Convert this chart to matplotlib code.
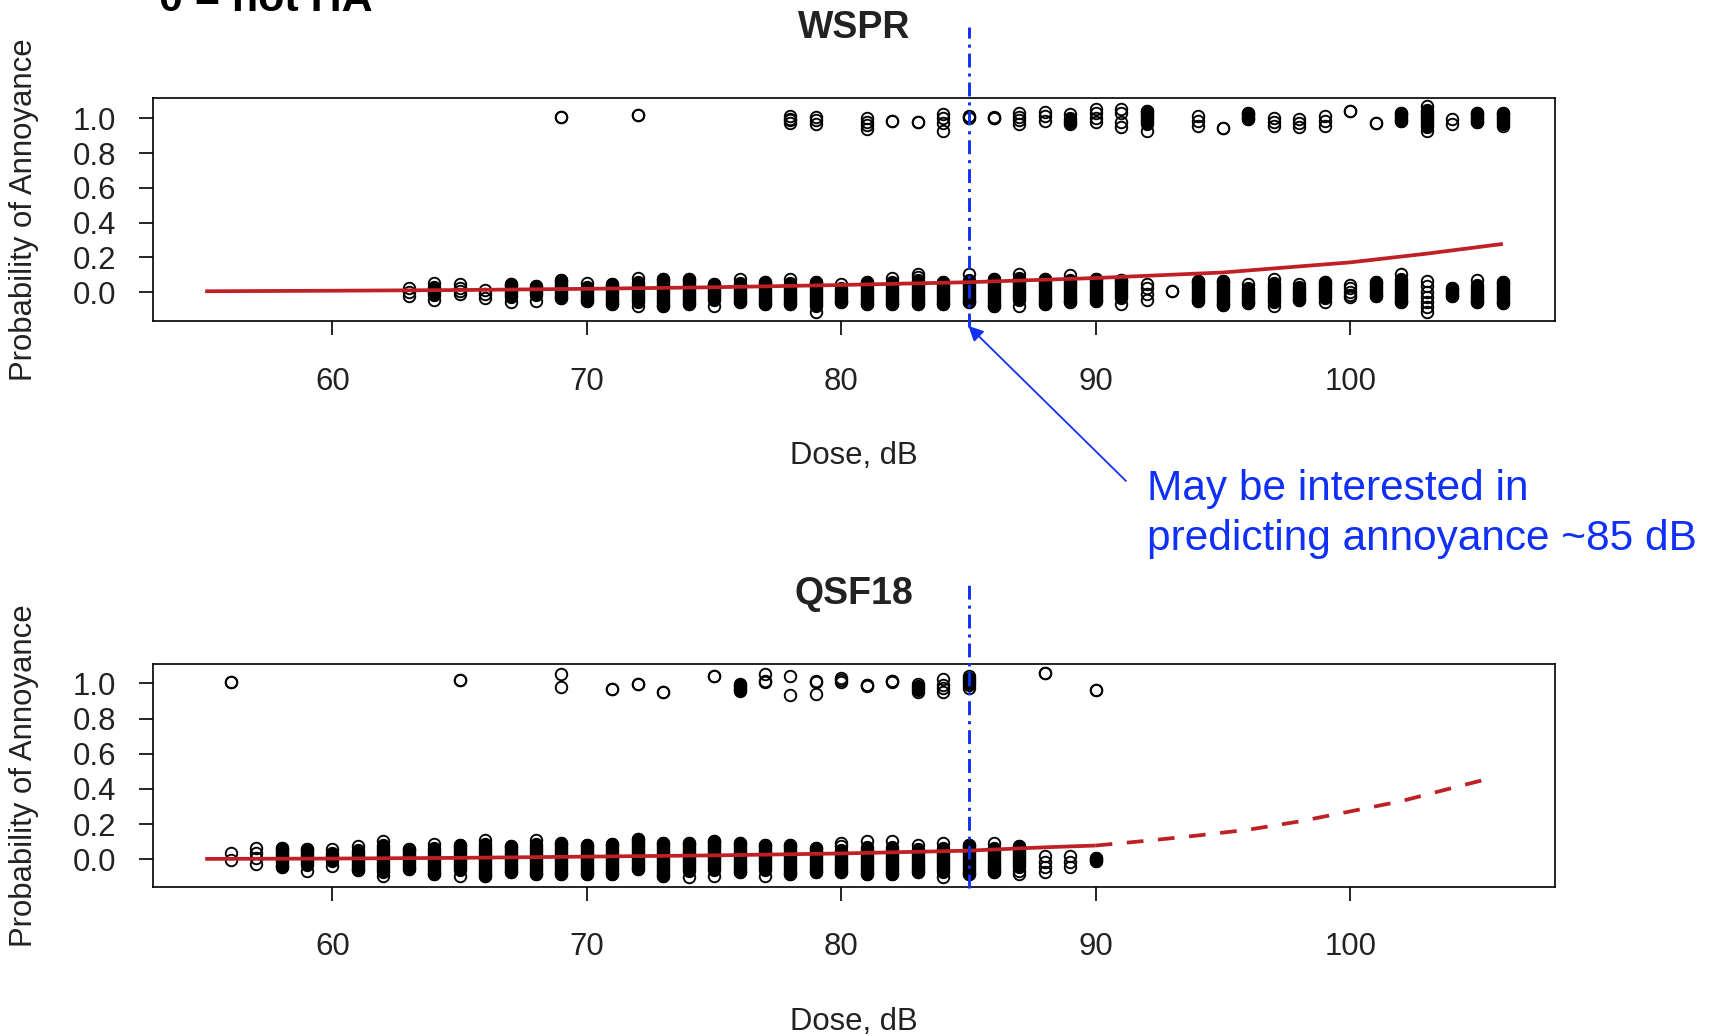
import numpy as np
import matplotlib
matplotlib.use("Agg")
import matplotlib.pyplot as plt

nan = np.nan

# ---------------- data ----------------
# WSPR: jittered responses at 0 (not highly annoyed)
wspr0_dose = [63, 64, 65, 66, 67, 68, 69, 70, 71, 72, 73, 74, 75, 76, 77, 78, 79, 80, 81, 82, 83, 84,
              85, 86, 87, 88, 89, 90, 91, 92, 93, 94, 95, 96, 97, 98, 99, 100, 101, 102, 103, 104, 105, 106]
wspr0_lo = [-0.019, -0.042, -0.010, -0.035, -0.054, -0.048, -0.035, -0.048, -0.067, -0.077, -0.077, -0.067,
            -0.077, -0.058, -0.067, -0.067, -0.111, -0.058, -0.067, -0.067, -0.067, -0.067, -0.058, -0.077,
            -0.077, -0.067, -0.058, -0.048, -0.067, -0.042, 0.007, -0.048, -0.073, -0.061, -0.081, -0.042,
            -0.058, -0.029, -0.019, -0.058, -0.115, -0.023, -0.058, -0.061]
wspr0_hi = [0.023, 0.055, 0.046, 0.013, 0.050, 0.036, 0.071, 0.055, 0.050, 0.084, 0.075, 0.075, 0.050,
            0.075, 0.061, 0.075, 0.061, 0.050, 0.061, 0.084, 0.107, 0.061, 0.103, 0.075, 0.107, 0.075,
            0.099, 0.075, 0.069, 0.050, 0.007, 0.065, 0.065, 0.050, 0.075, 0.050, 0.061, 0.042, 0.061,
            0.107, 0.065, 0.027, 0.069, 0.061]
wspr0_fill_lo = [nan, -0.016, nan, nan, -0.025, -0.016, -0.035, -0.048, -0.067, -0.054, -0.077, -0.067,
                 -0.044, -0.058, -0.067, -0.067, -0.077, -0.058, -0.067, -0.067, -0.067, -0.067, -0.058,
                 -0.077, -0.044, -0.067, -0.058, -0.048, -0.035, nan, nan, -0.048, -0.073, -0.061, -0.054,
                 -0.042, -0.035, nan, -0.019, -0.058, nan, -0.023, -0.058, -0.061]
wspr0_fill_hi = [nan, 0.032, nan, nan, 0.050, 0.036, 0.071, 0.032, 0.050, 0.061, 0.075, 0.075, 0.050,
                 0.052, 0.061, 0.052, 0.061, 0.023, 0.061, 0.061, 0.071, 0.061, 0.071, 0.075, 0.080,
                 0.075, 0.071, 0.075, 0.069, nan, nan, 0.065, 0.065, 0.023, 0.052, 0.032, 0.061, nan,
                 0.061, 0.076, nan, 0.027, 0.042, 0.061]
wspr0_extra_dose = [63, 65, 65, 66, 83, 92, 92, 100, 100, 100, 103, 103, 103, 103, 103]
wspr0_extra_y = [0.002, 0.023, 0.008, -0.012, 0.090, 0.023, -0.012, 0.023, 0.004, -0.016,
                 0.036, 0.004, -0.025, -0.054, -0.083]

# WSPR: jittered responses at 1 (highly annoyed)
wspr1_dose = [69, 72, 78, 79, 81, 82, 83, 84, 85, 86, 87, 88, 89, 90, 91, 92, 94, 95, 96, 97, 98, 99,
              100, 101, 102, 103, 104, 105, 106]
wspr1_lo = [1.009, 1.019, 0.973, 0.967, 0.938, 0.984, 0.977, 0.929, 1.000, 1.000, 0.967, 0.986, 0.965,
            0.977, 0.948, 0.929, 0.958, 0.942, 0.996, 0.958, 0.948, 0.958, 1.042, 0.971, 0.986, 0.929,
            0.967, 0.977, 0.958]
wspr1_hi = [1.009, 1.019, 1.013, 1.007, 1.003, 0.984, 0.977, 1.023, 1.013, 1.007, 1.032, 1.038, 1.023,
            1.052, 1.052, 1.042, 1.013, 0.942, 1.032, 1.003, 0.994, 1.013, 1.042, 0.971, 1.032, 1.071,
            0.994, 1.032, 1.032]
wspr1_fill_lo = [nan, nan, nan, nan, nan, nan, nan, nan, nan, nan, nan, nan, 0.975, nan, nan, 0.965,
                 nan, nan, 0.996, nan, nan, nan, nan, nan, 0.986, 0.950, nan, 0.977, 0.970]
wspr1_fill_hi = [nan, nan, nan, nan, nan, nan, nan, nan, nan, nan, nan, nan, 1.003, nan, nan, 1.042,
                 nan, nan, 1.032, nan, nan, nan, nan, nan, 1.032, 1.048, nan, 1.032, 1.032]
wspr1_extra_dose = [78, 78, 79, 81, 81, 84, 84, 85, 86, 87, 87, 88, 90, 90, 91, 91, 94, 97, 98, 99]
wspr1_extra_y = [0.988, 0.998, 0.988, 0.981, 0.962, 1.000, 0.971, 1.006, 1.004, 1.009, 0.988, 1.013,
                 1.029, 1.003, 1.029, 0.977, 0.986, 0.981, 0.971, 0.986]

# WSPR fitted probability
wspr_curve_x = [55, 60, 65, 70, 75, 80, 85, 90, 95, 100, 103, 106]
wspr_curve_y = [0.006, 0.009, 0.013, 0.020, 0.029, 0.042, 0.058, 0.082, 0.114, 0.172, 0.222, 0.278]

# QSF18: responses at 0
qsf0_dose = [56, 57, 58, 59, 60, 61, 62, 63, 64, 65, 66, 67, 68, 69, 70, 71, 72, 73, 74, 75, 76, 77,
             78, 79, 80, 81, 82, 83, 84, 85, 86, 87, 88, 89, 90]
qsf0_lo = [-0.004, -0.027, -0.046, -0.068, -0.036, -0.061, -0.093, -0.055, -0.084, -0.093, -0.093,
           -0.074, -0.084, -0.084, -0.084, -0.084, -0.055, -0.093, -0.099, -0.093, -0.074, -0.093,
           -0.084, -0.074, -0.074, -0.084, -0.084, -0.074, -0.099, -0.084, -0.074, -0.084, -0.074,
           -0.046, -0.011]
qsf0_hi = [0.034, 0.066, 0.066, 0.057, 0.057, 0.076, 0.104, 0.057, 0.085, 0.079, 0.110, 0.076, 0.110,
           0.091, 0.079, 0.085, 0.113, 0.091, 0.091, 0.104, 0.095, 0.079, 0.079, 0.066, 0.091, 0.104,
           0.104, 0.079, 0.091, 0.079, 0.091, 0.076, 0.019, 0.019, 0.009]
qsf0_fill_lo = [nan, nan, -0.046, -0.032, -0.011, -0.061, -0.070, -0.055, -0.084, -0.061, -0.093,
                -0.074, -0.084, -0.084, -0.084, -0.084, -0.055, -0.093, -0.065, -0.061, -0.074, -0.061,
                -0.084, -0.074, -0.074, -0.084, -0.084, -0.074, -0.070, -0.084, -0.074, -0.042, nan,
                nan, -0.011]
qsf0_fill_hi = [nan, nan, 0.066, 0.057, 0.034, 0.053, 0.081, 0.057, 0.062, 0.079, 0.085, 0.076, 0.085,
                0.091, 0.079, 0.085, 0.113, 0.091, 0.091, 0.104, 0.095, 0.079, 0.079, 0.066, 0.053,
                0.072, 0.072, 0.057, 0.062, 0.079, 0.062, 0.076, nan, nan, 0.009]
qsf0_extra_dose = [57, 57, 80, 87, 88, 88, 89]
qsf0_extra_y = [0.034, 0.005, 0.076, -0.065, -0.013, -0.042, -0.013]

# QSF18: responses at 1
qsf1_dose = [56, 65, 69, 71, 72, 73, 75, 76, 77, 78, 79, 80, 81, 82, 83, 84, 85, 88, 90]
qsf1_lo = [1.005, 1.019, 0.977, 0.968, 0.996, 0.953, 1.041, 0.958, 1.005, 0.934, 0.939, 1.005, 0.990,
           1.015, 0.949, 0.949, 0.975, 1.060, 0.962]
qsf1_hi = [1.005, 1.019, 1.051, 0.968, 0.996, 0.953, 1.041, 0.994, 1.051, 1.041, 1.013, 1.032, 0.990,
           1.015, 0.994, 1.023, 1.041, 1.060, 0.962]
qsf1_fill_lo = [nan, nan, nan, nan, nan, nan, nan, 0.965, nan, nan, nan, nan, nan, nan, 0.965,
                nan, 0.990, nan, nan]
qsf1_fill_hi = [nan, nan, nan, nan, nan, nan, nan, 0.990, nan, nan, nan, nan, nan, nan, 0.985,
                nan, 1.030, nan, nan]
qsf1_extra_dose = [77, 79, 80, 81, 82, 84, 84]
qsf1_extra_y = [1.012, 1.006, 1.018, 0.985, 1.010, 0.990, 0.975]

# QSF18 fitted probability: observed range (solid) and extrapolation (dashed)
qsf_fit_x = [55, 60, 65, 70, 75, 80, 85, 88, 90]
qsf_fit_y = [0.002, 0.004, 0.008, 0.015, 0.022, 0.033, 0.049, 0.068, 0.078]
qsf_extrap_x = [90, 92, 94, 96, 98, 100, 102, 104, 105.5]
qsf_extrap_y = [0.078, 0.105, 0.135, 0.168, 0.215, 0.272, 0.330, 0.405, 0.460]

x_ticks = [60, 70, 80, 90, 100]
y_ticks = [0.0, 0.2, 0.4, 0.6, 0.8, 1.0]
y_tick_labels = ["0.0", "0.2", "0.4", "0.6", "0.8", "1.0"]
titles = ["WSPR", "QSF18"]
x_label = "Dose, dB"
y_label = "Probability of Annoyance"
focus_dose = 85
note_lines = ["May be interested in", "predicting annoyance ~85 dB"]
header = "0 = not HA"

# ---------------- style ----------------
plt.rcParams["font.family"] = ["Liberation Sans", "DejaVu Sans"]
plt.rcParams["lines.scale_dashes"] = False

W, H = 1714, 1036
PX = 0.72  # points per pixel at dpi 100
RED = "#BF2026"
BLUE = "#1030F5"
TXT = "#222222"
MS = 8.3
MEW = 1.35
BAR_LW = (MS + MEW)
FS = 22.4

fig = plt.figure(figsize=(W / 100, H / 100), dpi=100)
ax_left = 153.3 / W
ax_w = (1555 - 153.3) / W
ax_h_px = 222.7
ax_h = ax_h_px / H
ax1 = fig.add_axes([ax_left, 1 - 321 / H, ax_w, ax_h])
ax2 = fig.add_axes([ax_left, 1 - 886.7 / H, ax_w, ax_h])


def draw_cluster(ax, dose, lo, hi, flo, fhi, ex_d, ex_y):
    dose = np.asarray(dose, float)
    flo = np.asarray(flo, float)
    fhi = np.asarray(fhi, float)
    m = ~np.isnan(flo)
    ax.vlines(dose[m], flo[m], fhi[m], colors="black", linewidth=BAR_LW,
              capstyle="round", zorder=2)
    kw = dict(linestyle="none", marker="o", ms=MS, mew=MEW, mfc="none", mec="black", zorder=2.5)
    ax.plot(dose, lo, **kw)
    ax.plot(dose, hi, **kw)
    ax.plot(ex_d, ex_y, **kw)


draw_cluster(ax1, wspr0_dose, wspr0_lo, wspr0_hi, wspr0_fill_lo, wspr0_fill_hi,
             wspr0_extra_dose, wspr0_extra_y)
draw_cluster(ax1, wspr1_dose, wspr1_lo, wspr1_hi, wspr1_fill_lo, wspr1_fill_hi,
             wspr1_extra_dose, wspr1_extra_y)
ax1.plot(wspr_curve_x, wspr_curve_y, color=RED, lw=2.7, zorder=3, solid_capstyle="butt")

draw_cluster(ax2, qsf0_dose, qsf0_lo, qsf0_hi, qsf0_fill_lo, qsf0_fill_hi,
             qsf0_extra_dose, qsf0_extra_y)
draw_cluster(ax2, qsf1_dose, qsf1_lo, qsf1_hi, qsf1_fill_lo, qsf1_fill_hi,
             qsf1_extra_dose, qsf1_extra_y)
ax2.plot(qsf_fit_x, qsf_fit_y, color=RED, lw=2.7, zorder=3, solid_capstyle="butt")
ax2.plot(qsf_extrap_x, qsf_extrap_y, color=RED, lw=2.7, zorder=3,
         dashes=(12, 10.5), dash_capstyle="butt")

ylims = [(-0.165, 1.115), (-0.156, 1.110)]
for ax, ttl, yl in zip([ax1, ax2], titles, ylims):
    ax.set_xlim(52.96, 108.05)
    ax.set_ylim(*yl)
    ax.set_xticks(x_ticks)
    ax.set_xticklabels([str(t) for t in x_ticks])
    ax.set_yticks(y_ticks)
    ax.set_yticklabels(y_tick_labels)
    for sp in ax.spines.values():
        sp.set_linewidth(1.2)
        sp.set_color("black")
    ax.tick_params(axis="both", length=14 * PX, width=1.2, labelsize=FS,
                   labelcolor=TXT, color="black")
    ax.tick_params(axis="x", pad=31.5 * PX)
    ax.tick_params(axis="y", pad=23.3 * PX)
    ax.text(0.5, 1 + 60.5 / ax_h_px, ttl, transform=ax.transAxes, ha="center",
            va="baseline", fontsize=27, fontweight="bold", color=TXT)
    ax.text(0.5, -143 / ax_h_px, x_label, transform=ax.transAxes, ha="center",
            va="baseline", fontsize=FS, color=TXT)
    ax.text((24 - 153.3) / (1555 - 153.3), 0.5, y_label, transform=ax.transAxes,
            ha="center", va="center", rotation=90, fontsize=FS, color=TXT)

# vertical reference line at the dose of interest
ax1.axvline(focus_dose, ymin=-0.027, ymax=1.320, clip_on=False, color=BLUE, lw=2.1,
            dashes=(10, 4.3, 2.2, 4.3), zorder=5)
ax2.axvline(focus_dose, ymin=-0.006, ymax=1.355, clip_on=False, color=BLUE, lw=2.1,
            dashes=(10, 4.3, 2.2, 4.3), zorder=5)

# annotation arrow and text
ax1.annotate("", xy=(focus_dose, -0.194), xycoords="data",
             xytext=(1126, H - 481), textcoords="figure pixels",
             arrowprops=dict(arrowstyle="-|>", color=BLUE, lw=1.3, mutation_scale=22,
                             shrinkA=0, shrinkB=0),
             annotation_clip=False)
fig.text(1146.7 / W, 1 - 499.6 / H, note_lines[0], color=BLUE, fontsize=30.5,
         ha="left", va="baseline")
fig.text(1146.7 / W, 1 - 550 / H, note_lines[1], color=BLUE, fontsize=30.5,
         ha="left", va="baseline")

# header text cut off at the top of the slide (as in the reference)
fig.text(159 / W, 1 - 11 / H, header, fontsize=31, fontweight="bold", color="black",
         ha="left", va="baseline")

fig.savefig("out.png", dpi=100)
